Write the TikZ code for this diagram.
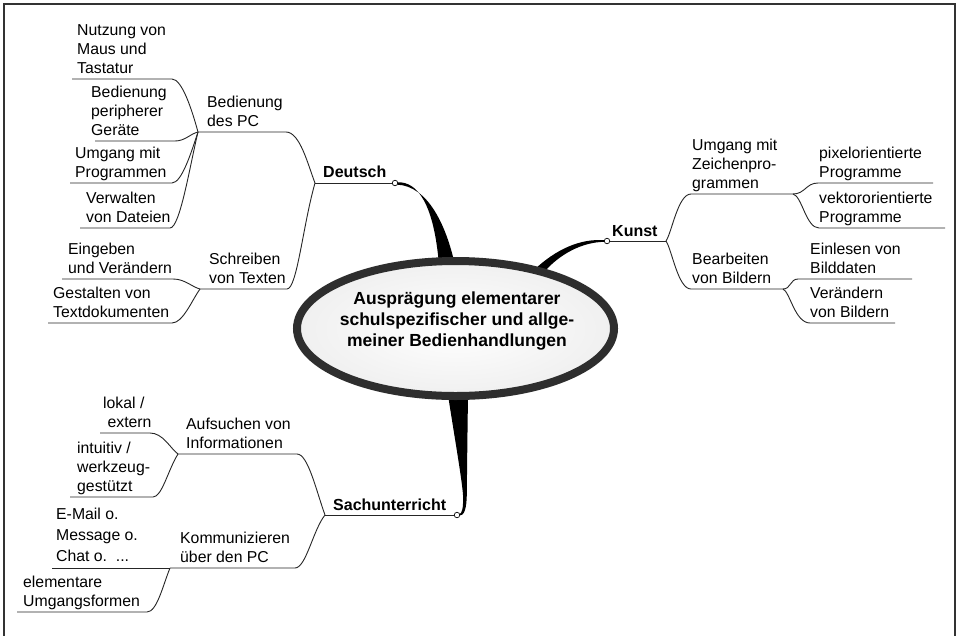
\documentclass[tikz,border=0pt]{standalone}
\usepackage{fontspec}
\setmainfont{Liberation Sans}
\usetikzlibrary{shapes.geometric}
\begin{document}
\begin{tikzpicture}[x=1pt,y=-1pt,
  lbl/.style={font=\fontsize{15.8}{19}\selectfont, align=left, anchor=south west, inner sep=0pt, text depth=0pt},
  mainlbl/.style={font=\bfseries\fontsize{16}{19}\selectfont, anchor=base west, inner sep=0pt},
  conn/.style={line width=0.9pt, draw=black!85},
  knob/.style={circle, draw=black, fill=white, line width=0.7pt, inner sep=0pt, minimum size=5.5pt},
  taper/.style={fill=black},
  coreshape/.style={ellipse, draw=black!82, line width=8pt, minimum width=317pt, minimum height=135pt, inner sep=0pt, inner color=white, outer color=black!6},
  coretext/.style={font=\bfseries\fontsize{17.5}{21}\selectfont, align=center, anchor=south, inner sep=0pt, text depth=0pt}
]
\useasboundingbox (0,0) rectangle (957,635);
\fill[white] (0,0) rectangle (957,635);
\draw[line width=1.5pt, black!80] (4,640) -- (4,4) -- (955,4) -- (955,640);

% ---------- tapered main connectors ----------
\fill[taper] (397,182.3) .. controls (418,181) and (434,205) .. (439,265) -- (455,265) .. controls (446,225) and (428,186) .. (397,184.6) -- cycle;
\fill[taper] (605,240.3) .. controls (580,238) and (555,250) .. (534,270) -- (544,272) .. controls (560,254) and (582,242) .. (605,241.8) -- cycle;
\fill[taper] (448,395) .. controls (455,440) and (462,480) .. (463,495) .. controls (463.5,508) and (462,514) .. (459,514.3) -- (459,515.8) .. controls (464.5,516) and (466.5,508) .. (466.8,495) .. controls (467,470) and (467.5,430) .. (468,395) -- cycle;

% ---------- central topic ----------
\node[coreshape] (core) at (455.5,328.5) {};
\node[coretext] (coretxt) at (457,347) {Ausprägung elementarer\\schulspezifischer und allge-\\meiner Bedienhandlungen};

% ---------- Deutsch ----------
\coordinate (jD) at (315,183);
\node[knob] (kD) at (395,183) {};
\node[mainlbl] (tD) at (323,177) {Deutsch};
\draw[conn] (jD) -- (kD);

\coordinate (jB) at (198,132);
\coordinate (eB) at (286,132);
\node[lbl] (tB) at (207,127) {Bedienung\\des PC};
\draw[conn] (jB) -- (eB) .. controls (300,132) and (308,165) .. (jD);

\coordinate (jS) at (200,289);
\coordinate (eS) at (287,289);
\node[lbl] (tS) at (209,284) {Schreiben\\von Texten};
\draw[conn] (jS) -- (eS) .. controls (297,289) and (303,225) .. (jD);

\node[lbl] (t1) at (77,74) {Nutzung von\\Maus und\\Tastatur};
\coordinate (a1) at (72,79); \coordinate (b1) at (172,79);
\draw[conn] (a1) -- (b1) .. controls (182,79) and (192,110) .. (jB);

\node[lbl] (t2) at (91,136) {Bedienung\\peripherer\\Geräte};
\coordinate (a2) at (95,141); \coordinate (b2) at (175,141);
\draw[conn] (a2) -- (b2) .. controls (185,141) and (190,134) .. (jB);

\node[lbl] (t3) at (75,178) {Umgang mit\\Programmen};
\coordinate (a3) at (70,183); \coordinate (b3) at (172,183);
\draw[conn] (a3) -- (b3) .. controls (182,183) and (192,150) .. (jB);

\node[lbl] (t4) at (86,223) {Verwalten\\von Dateien};
\coordinate (a4) at (80,228); \coordinate (b4) at (170,228);
\draw[conn] (a4) -- (b4) .. controls (180,228) and (190,165) .. (jB);

\node[lbl] (t5) at (68,274) {Eingeben\\und Verändern};
\coordinate (a5) at (62,279); \coordinate (b5) at (173,279);
\draw[conn] (a5) -- (b5) .. controls (185,279) and (192,287) .. (jS);

\node[lbl] (t6) at (53,318) {Gestalten von\\Textdokumenten};
\coordinate (a6) at (48,323); \coordinate (b6) at (172,323);
\draw[conn] (a6) -- (b6) .. controls (183,323) and (192,300) .. (jS);

% ---------- Kunst ----------
\coordinate (jK) at (666,241);
\node[knob] (kK) at (607,241) {};
\node[mainlbl] (tK) at (612,236) {Kunst};
\draw[conn] (kK) -- (jK);

\coordinate (jU) at (793,194);
\coordinate (eU) at (691,194);
\node[lbl] (tU) at (692,189) {Umgang mit\\Zeichenpro-\\grammen};
\draw[conn] (jK) .. controls (672,232) and (678,194) .. (eU) -- (jU);

\coordinate (jE) at (783,289);
\coordinate (eE) at (691,289);
\node[lbl] (tE) at (692,284) {Bearbeiten\\von Bildern};
\draw[conn] (jK) .. controls (672,250) and (678,289) .. (eE) -- (jE);

\node[lbl] (r1) at (819,178) {pixelorientierte\\Programme};
\coordinate (c1) at (818,183); \coordinate (d1) at (933,183);
\draw[conn] (jU) .. controls (805,194) and (806,183) .. (c1) -- (d1);

\node[lbl] (r2) at (819,223) {vektororientierte\\Programme};
\coordinate (c2) at (819,228); \coordinate (d2) at (945,228);
\draw[conn] (jU) .. controls (802,196) and (806,228) .. (c2) -- (d2);

\node[lbl] (r3) at (810,274) {Einlesen von\\Bilddaten};
\coordinate (c3) at (798,279); \coordinate (d3) at (912,279);
\draw[conn] (jE) .. controls (791,289) and (790,279) .. (c3) -- (d3);

\node[lbl] (r4) at (810,318) {Verändern\\von Bildern};
\coordinate (c4) at (810,323); \coordinate (d4) at (895,323);
\draw[conn] (jE) .. controls (790,292) and (795,323) .. (c4) -- (d4);

% ---------- Sachunterricht ----------
\coordinate (jSa) at (325,515);
\node[knob] (kSa) at (457,515) {};
\node[mainlbl] (tSa) at (333,510) {Sachunterricht};
\draw[conn] (jSa) -- (kSa);

\coordinate (jA) at (178,454);
\coordinate (eA) at (297,454);
\node[lbl] (tA) at (186,449) {Aufsuchen von\\Informationen};
\draw[conn] (jA) -- (eA) .. controls (308,454) and (316,490) .. (jSa);

\coordinate (jKo) at (170,568);
\coordinate (eKo) at (295,568);
\node[lbl] (tKo) at (180,563) {Kommunizieren\\über den PC};
\draw[conn] (jKo) -- (eKo) .. controls (306,568) and (313,530) .. (jSa);

\node[lbl] (s1) at (103,428) {lokal /\\\ extern};
\coordinate (f1) at (100,433); \coordinate (g1) at (150,433);
\draw[conn] (f1) -- (g1) .. controls (163,433) and (170,448) .. (jA);

\node[lbl] (s2) at (77,492) {intuitiv /\\werkzeug-\\gestützt};
\coordinate (f2) at (70,497); \coordinate (g2) at (153,497);
\draw[conn] (f2) -- (g2) .. controls (162,497) and (168,470) .. (jA);

\node[lbl, font=\fontsize{15.8}{21}\selectfont] (s3) at (56,562) {E-Mail o.\\Message o.\\Chat o.\ \ ...};
\coordinate (f3) at (52,568);
\draw[conn] (f3) -- (jKo);

\node[lbl] (s4) at (23,607) {elementare\\Umgangsformen};
\coordinate (f4) at (17,612); \coordinate (g4) at (147,612);
\draw[conn] (f4) -- (g4) .. controls (157,612) and (163,585) .. (jKo);
\end{tikzpicture}
\end{document}
